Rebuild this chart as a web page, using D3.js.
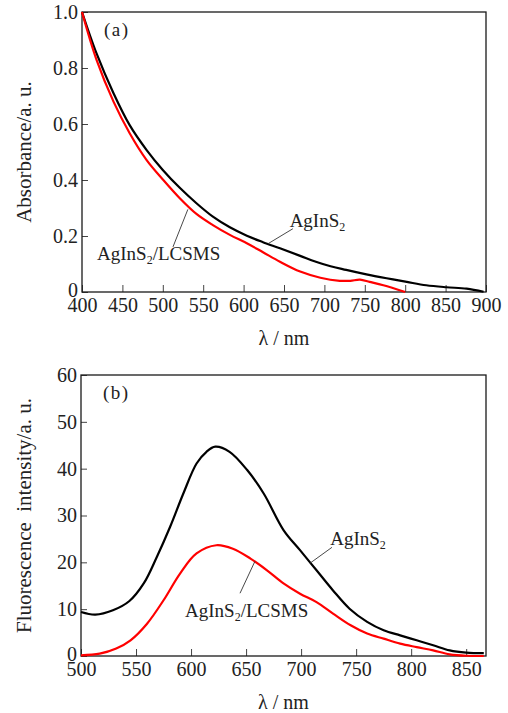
<!DOCTYPE html>
<html>
<head>
<meta charset="utf-8">
<script src="https://cdn.jsdelivr.net/npm/d3@7"></script>
<style>
  body { margin: 0; background: #fff; }
  svg text { font-family: "Liberation Serif", "DejaVu Serif", serif; fill: #222; }
</style>
</head>
<body>
<div id="chart"></div>
<script>
// (a) absorbance
var absTicksX = [400, 450, 500, 550, 600, 650, 700, 750, 800, 850, 900];
var absTicksY = [0, 0.2, 0.4, 0.6, 0.8, 1.0];
var absWlBlack = [400, 418, 439, 459, 480, 500, 521, 542, 562, 583, 604, 624, 645, 670, 698, 727, 752, 777, 802, 826, 851, 876, 897];
var absBlack = [1.0, 0.852, 0.71, 0.596, 0.507, 0.436, 0.372, 0.316, 0.269, 0.231, 0.201, 0.178, 0.156, 0.129, 0.10, 0.079, 0.063, 0.049, 0.036, 0.024, 0.017, 0.012, 0.001];
var absWlRed = [400, 418, 439, 459, 480, 500, 521, 542, 562, 583, 604, 624, 645, 670, 695, 719, 732, 744, 756, 773, 800];
var absRed = [1.0, 0.829, 0.68, 0.567, 0.471, 0.402, 0.335, 0.278, 0.239, 0.204, 0.174, 0.142, 0.108, 0.073, 0.051, 0.040, 0.040, 0.044, 0.036, 0.024, 0.0];

// (b) fluorescence
var flTicksX = [500, 550, 600, 650, 700, 750, 800, 850];
var flTicksY = [0, 10, 20, 30, 40, 50, 60];
var flWlBlack = [500, 513, 529, 544, 557, 569, 581, 593, 605, 614, 622, 635, 651, 666, 684, 699, 714, 729, 744, 760, 775, 790, 805, 820, 835, 850, 866];
var flBlack = [9.4, 8.85, 9.77, 11.75, 15.5, 21.2, 27.6, 34.7, 41.1, 43.6, 44.7, 43.6, 39.7, 34.7, 26.9, 22.6, 18.3, 14.0, 10.1, 7.3, 5.5, 4.4, 3.35, 2.3, 1.2, 0.72, 0.6];
var flWlRed = [500, 517, 532, 545, 560, 575, 590, 605, 623, 638, 654, 669, 684, 699, 714, 729, 745, 760, 775, 790, 805, 820, 835, 851, 866];
var flRed = [0.15, 0.5, 1.6, 3.35, 6.9, 11.9, 17.6, 21.9, 23.65, 22.9, 20.8, 18.3, 15.5, 13.3, 11.5, 9.06, 6.56, 4.8, 3.7, 2.65, 1.9, 1.2, 0.36, 0.05, 0];

var svg = d3.select("#chart").append("svg")
    .attr("width", 508)
    .attr("height", 713);

function zip(xs, ys) {
  return xs.map(function(x, i) { return [x, ys[i]]; });
}

function label(g, x, y, suffix) {
  var t = g.append("text")
      .attr("x", x)
      .attr("y", y)
      .attr("font-size", 19);
  t.append("tspan").text("AgInS");
  t.append("tspan").attr("font-size", 12).attr("dy", 4).text("2");
  if (suffix) t.append("tspan").attr("dy", -4).text(suffix);
}

function drawPanel(p) {
  var x = d3.scaleLinear().domain(p.xDomain).range([p.left, p.right]);
  var y = d3.scaleLinear().domain(p.yDomain).range([p.bottom, p.top]);
  var g = svg.append("g");

  g.append("g")
      .attr("transform", "translate(0," + p.bottom + ")")
      .call(d3.axisBottom(x).tickValues(p.ticksX).tickSizeInner(-7).tickSizeOuter(0).tickPadding(6).tickFormat(d3.format("d")))
      .call(function(a) { a.select(".domain").remove(); })
      .call(function(a) {
        a.selectAll("line").attr("stroke", "#444");
        a.selectAll("text").attr("font-size", 20).attr("font-family", "Liberation Serif").attr("fill", "#222");
      });

  g.append("g")
      .attr("transform", "translate(" + p.left + ",0)")
      .call(d3.axisLeft(y).tickValues(p.ticksY).tickSizeInner(-6).tickSizeOuter(0).tickPadding(4).tickFormat(p.fmt))
      .call(function(a) { a.select(".domain").remove(); })
      .call(function(a) {
        a.selectAll("line").attr("stroke", "#444");
        a.selectAll("text").attr("font-size", 20).attr("font-family", "Liberation Serif").attr("fill", "#222");
        a.selectAll("text").filter(function(d) { return d === 0; }).attr("dy", "0.2em");
      });

  g.append("rect")
      .attr("x", p.left)
      .attr("y", p.top)
      .attr("width", p.right - p.left)
      .attr("height", p.bottom - p.top)
      .attr("fill", "none")
      .attr("stroke", "#1a1a1a")
      .attr("stroke-width", 1.3);

  var line = d3.line()
      .x(function(d) { return x(d[0]); })
      .y(function(d) { return y(d[1]); })
      .curve(d3.curveCatmullRom.alpha(0.5));

  g.append("path")
      .attr("d", line(zip(p.wlBlack, p.black)))
      .attr("fill", "none")
      .attr("stroke", "#000")
      .attr("stroke-width", 2.2);

  g.append("path")
      .attr("d", line(zip(p.wlRed, p.red)))
      .attr("fill", "none")
      .attr("stroke", "#ff0000")
      .attr("stroke-width", 2.2);

  // leader lines + labels
  p.notes.forEach(function(n) {
    g.append("line")
        .attr("x1", x(n.from[0])).attr("y1", y(n.from[1]))
        .attr("x2", x(n.to[0])).attr("y2", y(n.to[1]))
        .attr("stroke", "#333")
        .attr("stroke-width", 0.9);
    label(g, x(n.at[0]), y(n.at[1]), n.suffix);
  });

  g.append("text")
      .attr("x", p.left + 22)
      .attr("y", p.top + 24)
      .attr("font-size", 19)
      .attr("letter-spacing", 1.5)
      .text(p.tag);

  g.append("text")
      .attr("x", (p.left + p.right) / 2)
      .attr("y", p.bottom + 53)
      .attr("text-anchor", "middle")
      .attr("font-size", 20)
      .text("λ / nm");

  g.append("text")
      .attr("transform", "translate(31," + ((p.top + p.bottom) / 2) + ") rotate(-90)")
      .attr("text-anchor", "middle")
      .attr("font-size", 21)
      .style("white-space", "pre")
      .text(p.yTitle);
}

drawPanel({
  left: 82, right: 486, top: 12, bottom: 292,
  xDomain: [400, 900], yDomain: [0, 1.0],
  ticksX: absTicksX, ticksY: absTicksY,
  fmt: function(d) { return d === 0 ? "0" : d3.format(".1f")(d); },
  wlBlack: absWlBlack, black: absBlack,
  wlRed: absWlRed, red: absRed,
  tag: "(a)",
  yTitle: "Absorbance/a. u.",
  notes: [
    {at: [657, 0.232], from: [661, 0.226], to: [630, 0.172], suffix: null},
    {at: [418.6, 0.114], from: [512.6, 0.161], to: [531, 0.295], suffix: "/LCSMS"}
  ]
});

drawPanel({
  left: 81, right: 486, top: 375, bottom: 656,
  xDomain: [500, 868], yDomain: [0, 60],
  ticksX: flTicksX, ticksY: flTicksY,
  fmt: d3.format("d"),
  wlBlack: flWlBlack, black: flBlack,
  wlRed: flWlRed, red: flRed,
  tag: "(b)",
  yTitle: "Fluorescence  intensity/a. u.",
  notes: [
    {at: [726.4, 23.65], from: [728, 23.2], to: [708, 19.8], suffix: null},
    {at: [594.5, 8.27], from: [644.5, 13.4], to: [658, 20.2], suffix: "/LCSMS"}
  ]
});
</script>
</body>
</html>
